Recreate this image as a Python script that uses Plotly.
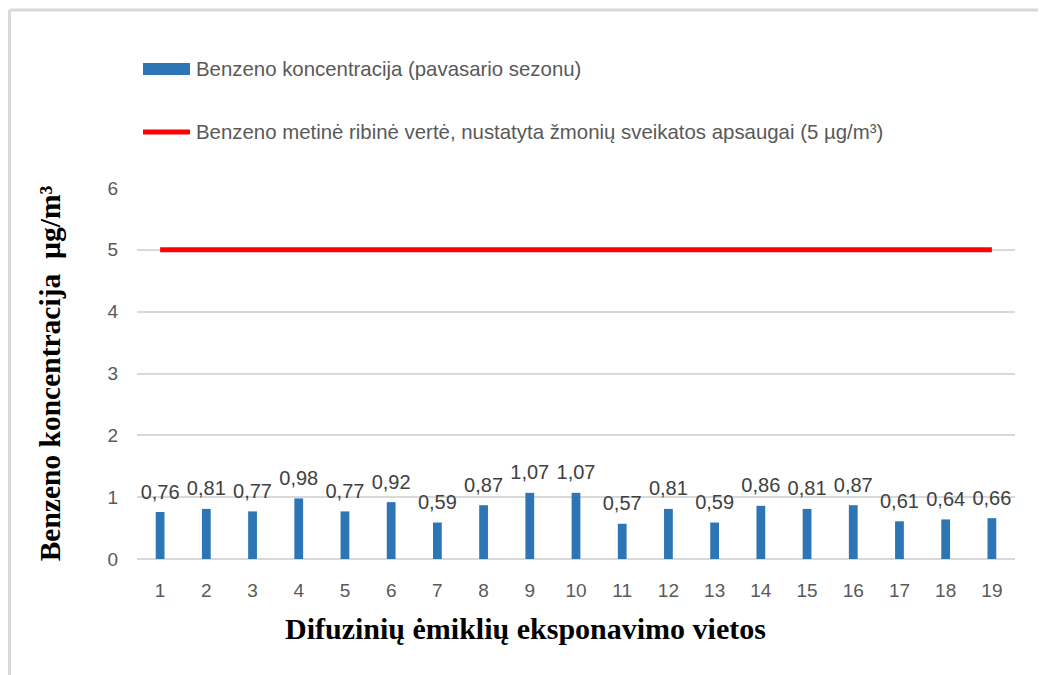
import plotly.graph_objects as go

vietos = list(range(1, 20))
koncentracija = [0.76, 0.81, 0.77, 0.98, 0.77, 0.92, 0.59, 0.87, 1.07, 1.07,
                 0.57, 0.81, 0.59, 0.86, 0.81, 0.87, 0.61, 0.64, 0.66]
ribine_verte = [5] * len(vietos)

pavadinimas_juosta = "Benzeno koncentracija (pavasario sezonu)"
pavadinimas_linija = "Benzeno metinė ribinė vertė, nustatyta žmonių sveikatos apsaugai (5 µg/m³)"
x_pavadinimas = "Difuzinių ėmiklių eksponavimo vietos"
y_pavadinimas = "Benzeno koncentracija  µg/m³"

# the page has an 8px body margin, so the figure starts at (8, 8) on screen
OFF = 8
W, H = 1046 - 2 * OFF, 675 - OFF
L, R, T, B = 137 - OFF, W - (1015 - OFF), 188 - OFF, H - (559 - OFF)
pw, ph = W - L - R, H - T - B


def px_x(x):
    return (x - OFF - L) / pw


def px_y(y):
    return (H - B - (y - OFF)) / ph


SANS = "Liberation Sans, Arial"
SERIF = "Liberation Serif, Times New Roman, serif"
GRID = "#d9d9d9"
TXT = "#595959"

fig = go.Figure()

fig.add_trace(go.Bar(
    x=vietos, y=koncentracija, width=0.19,
    marker=dict(color="#2e75b6", line=dict(width=0)),
    name=pavadinimas_juosta, showlegend=False,
))
fig.add_trace(go.Scatter(
    x=vietos, y=koncentracija, mode="markers+text",
    marker=dict(size=12, opacity=0),
    text=[f"{v:.2f}".replace(".", ",") for v in koncentracija],
    textposition="top center",
    textfont=dict(family=SANS, size=20, color="#404040"),
    showlegend=False, hoverinfo="skip", cliponaxis=False,
))
fig.add_trace(go.Scatter(
    x=vietos, y=ribine_verte, mode="lines",
    line=dict(color="#ff0000", width=5),
    name=pavadinimas_linija, showlegend=False,
))

shapes = [
    # chart frame (left and top edges visible)
    dict(type="line", xref="paper", yref="paper", x0=px_x(9.5), x1=px_x(1100),
         y0=px_y(10), y1=px_y(10), line=dict(color=GRID, width=3)),
    dict(type="line", xref="paper", yref="paper", x0=px_x(9.5), x1=px_x(9.5),
         y0=px_y(10), y1=px_y(700), line=dict(color=GRID, width=3)),
    # legend keys
    dict(type="rect", xref="paper", yref="paper", x0=px_x(143), x1=px_x(190),
         y0=px_y(63), y1=px_y(75), fillcolor="#2e75b6", line=dict(width=0)),
    dict(type="line", xref="paper", yref="paper", x0=px_x(143), x1=px_x(190),
         y0=px_y(132), y1=px_y(132), line=dict(color="#ff0000", width=5)),
]

annotations = [
    dict(text=pavadinimas_juosta, xref="paper", yref="paper", x=px_x(194), y=px_y(69),
         xanchor="left", yanchor="middle", showarrow=False,
         font=dict(family=SANS, size=20.4, color=TXT)),
    dict(text=pavadinimas_linija, xref="paper", yref="paper", x=px_x(194), y=px_y(132),
         xanchor="left", yanchor="middle", showarrow=False,
         font=dict(family=SANS, size=20.4, color=TXT)),
    # x axis title is centred on the whole chart, not on the plot area
    dict(text=x_pavadinimas, xref="paper", yref="paper", x=px_x(525), y=px_y(628),
         xanchor="center", yanchor="middle", showarrow=False,
         font=dict(family=SERIF, size=30, color="black", weight="bold")),
]

fig.update_layout(
    width=W, height=H,
    margin=dict(l=L, r=R, t=T, b=B),
    paper_bgcolor="white", plot_bgcolor="white",
    separators=",.",
    shapes=shapes,
    annotations=annotations,
    xaxis=dict(
        range=[0.5, 19.5], tickmode="array", tickvals=vietos,
        ticktext=[str(v) for v in vietos],
        showgrid=False, zeroline=False, showline=False, ticks="",
        ticklabelstandoff=18,
        tickfont=dict(family=SANS, size=19, color=TXT),
    ),
    yaxis=dict(
        range=[0, 6], dtick=1, showgrid=True, gridcolor=GRID, gridwidth=1.5,
        zeroline=True, zerolinecolor=GRID, zerolinewidth=2,
        ticks="", ticklabelstandoff=18,
        tickfont=dict(family=SANS, size=19, color=TXT),
        title=dict(text=y_pavadinimas, standoff=38,
                   font=dict(family=SERIF, size=29.5, color="black", weight="bold")),
    ),
)

fig.write_html("out.html")
